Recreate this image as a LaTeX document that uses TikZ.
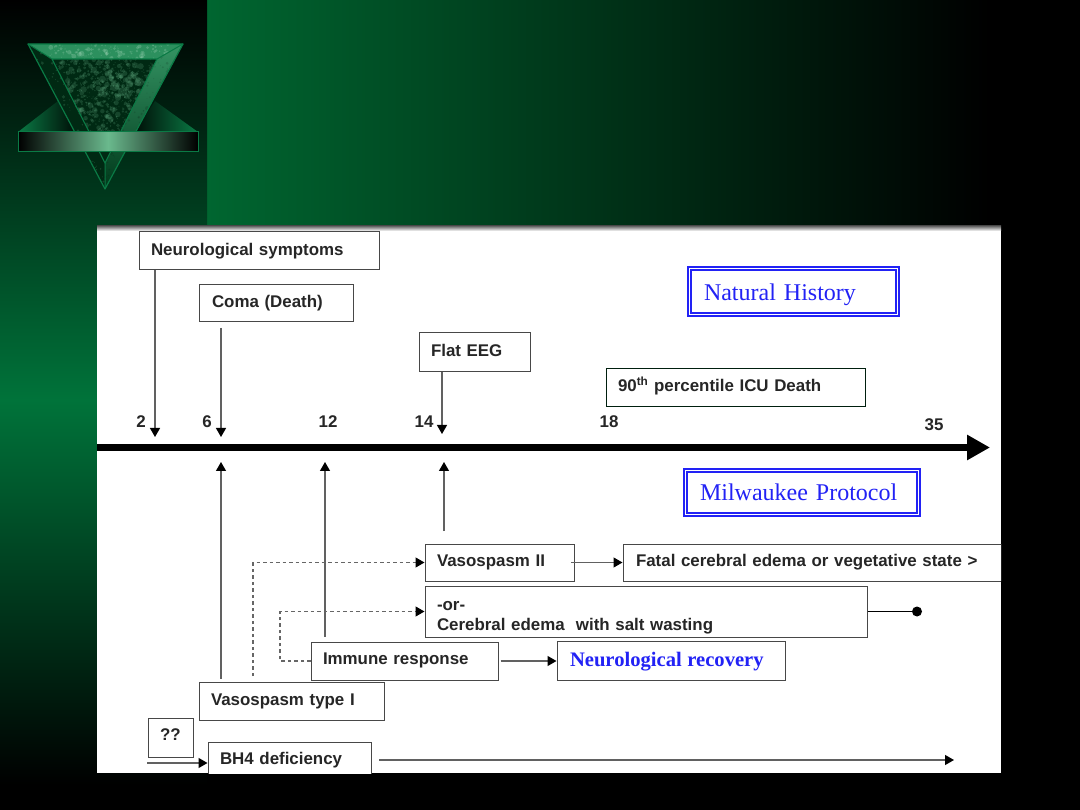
\documentclass[tikz,border=0pt]{standalone}
\usepackage{fontspec}
\setmainfont{Liberation Sans}
\newfontfamily\serifface{Liberation Serif}
\usetikzlibrary{arrows.meta}
\definecolor{gA}{HTML}{006630}
\definecolor{gP}{HTML}{00733A}
\definecolor{gB}{HTML}{0A7A45}
\definecolor{gL}{HTML}{6AB98D}
\definecolor{bord}{HTML}{484848}
\definecolor{proto}{HTML}{2222F5}
\tikzset{
  x=1pt,y=-1pt,
  boxn/.style={draw=bord,line width=1pt,fill=white,inner sep=0pt,font=\bfseries\fontsize{16.9}{20}\selectfont,text=black!85},
  dbl/.style={draw=proto,double=white,line width=1.4pt,double distance=1.7pt,inner sep=0pt,font=\serifface\fontsize{24}{28}\selectfont,text=proto},
  num/.style={inner sep=0pt,font=\bfseries\fontsize{16.9}{20}\selectfont,text=black!85},
  conn/.style={draw=black!62,line width=1.2pt,-{Triangle[length=9pt,width=10pt,color=black]}},
  dash1/.style={draw=black!60,line width=1.2pt,dash pattern=on 3.5pt off 3pt,-{Triangle[length=9pt,width=10pt,color=black]}},
}
% \bx{name}{x1}{y1}{x2}{y2}{left pad}{text}
\newcommand{\bx}[8][boxn]{%
  \pgfmathsetmacro{\bw}{#4-#2}\pgfmathsetmacro{\bh}{#5-#3}
  \pgfmathsetmacro{\tw}{\bw-#6-2}
  \node[#1,minimum width=\bw pt,minimum height=\bh pt,text width=\tw pt,align=left,text height=11pt,text depth=3pt,
        xshift=0pt] (#7) at ({(#2+#4)/2},{(#3+#5)/2}) {\hspace*{\dimexpr #6pt-\dimexpr(\bw pt-\tw pt)/2\relax}\raisebox{0pt}{#8}};}
% \blotches{n}{x}{y}{w}{h}{colour}{opacity}{max radius}
\newcommand{\blotches}[8]{%
  \foreach \i in {1,...,#1}{
    \pgfmathsetmacro{\px}{#2+#4*rnd}
    \pgfmathsetmacro{\py}{#3+#5*rnd}
    \pgfmathsetmacro{\pr}{0.4+#8*rnd*rnd}
    \fill[#6,opacity=#7] (\px,\py) circle (\pr);
  }}
\begin{document}
\begin{tikzpicture}
\useasboundingbox (0,0) rectangle (1080,810);
% background
\fill[black] (0,0) rectangle (1080,810);
\shade[left color=gA,right color=black] (207,0) rectangle (990,230);
\shade[top color=black,bottom color=gP] (0,0) rectangle (207,400);
\shade[top color=gP,bottom color=black] (0,400) rectangle (207,785);
% logo wings
\shade[left color=gB,right color=black!85!gA] (18,132) -- (58,101) -- (75,132) -- cycle;
\shade[right color=gB,left color=black!85!gA] (198,132) -- (155,101) -- (135,132) -- cycle;
\pgfmathsetseed{7}
% logo triangle
\begin{scope}
\clip (52,59) -- (157,59) -- (105,163) -- cycle;
\fill[black!60!gA] (40,50) rectangle (170,170);
\blotches{900}{52}{59}{105}{80}{gL}{0.2}{3}
\blotches{70}{100}{70}{40}{30}{gL}{0.2}{5}
\end{scope}
\begin{scope}
\clip (28,44) -- (183,44) -- (157,59) -- (52,59) -- cycle;
\fill[gB!65!gL] (20,40) rectangle (190,62);
\blotches{120}{50}{44}{120}{15}{gL!70!white}{0.3}{3}
\end{scope}
\begin{scope}
\clip (183,44) -- (157,59) -- (105,163) -- (105,189) -- cycle;
\shade[top color=gB!55!gL,bottom color=black!45!gA] (100,40) rectangle (190,190);
\blotches{280}{105}{44}{78}{145}{black}{0.12}{2}
\end{scope}
\begin{scope}
\clip (28,44) -- (52,59) -- (105,163) -- (105,189) -- cycle;
\fill[black!60!gA] (20,40) rectangle (110,190);
\blotches{300}{28}{44}{78}{145}{gL}{0.2}{1.6}
\end{scope}
\draw[gB,line width=1.2pt,line join=round] (28,44) -- (183,44) -- (105,189) -- cycle;
\draw[gB,line width=1.1pt,line join=round] (52,59) -- (157,59) -- (105,163) -- cycle;
\draw[gB,line width=1pt] (28,44) -- (52,59) (183,44) -- (157,59) (105,163) -- (105,189);
% logo bar
\shade[left color=black,right color=gL,draw=none] (18,132) rectangle (108,152);
\shade[left color=gL,right color=black,draw=none] (108,132) rectangle (198,152);
\draw[gB,line width=1pt] (18,132) rectangle (198,152);
% panel
\fill[white] (97,226) rectangle (1001,773);
\shade[top color=black!60,bottom color=white] (97,226) rectangle (1001,231);
\begin{scope}
\clip (97,226) rectangle (1001,773);
\bx{139}{232}{379}{270}{12}{ns}{\raisebox{-0.5pt}{Neurological symptoms}}
\bx{199}{285}{353}{322}{13}{coma}{Coma (Death)}
\bx{419}{333}{530}{372}{12}{flat}{Flat EEG}
\bx[boxn,draw=black!70!gA]{606}{369}{865}{407}{12}{icu}{90\textsuperscript{th} percentile ICU Death}
\bx[dbl]{689.5}{268.5}{897.5}{314.5}{14.5}{nh}{\raisebox{-5pt}{Natural History}}
\bx[dbl]{685.5}{470.5}{918.5}{514.5}{14.5}{mp}{\raisebox{-4pt}{Milwaukee Protocol}}
\bx{425}{544}{574}{581}{12}{v2}{Vasospasm II}
\bx{623}{544}{1010}{581}{13}{fatal}{Fatal cerebral edema or vegetative state >}
\node[boxn,minimum width=442pt,minimum height=51pt,text width=418pt,align=left] (ce) at (646,611.5) {\rule{0pt}{22pt}-or-\\Cerebral edema\ \ with salt wasting};
\bx{311}{642}{498}{680}{12}{ir}{\raisebox{1pt}{Immune response}}
\bx{557}{641}{785}{680}{13}{nr}{\serifface\color{proto}\fontsize{20.6}{24}\selectfont\raisebox{-2pt}{Neurological recovery}}
\bx{199}{682}{384}{720}{12}{vt}{Vasospasm type I}
\bx{148}{718}{193}{757}{12}{qq}{\raisebox{1pt}{??}}
\bx{208}{742}{371}{779}{12}{bh}{BH4 deficiency}
\end{scope}
% timeline
\coordinate (tl0) at (97,447.5);
\coordinate (tl1) at (990,447.5);
\draw[black,line width=7pt,-{Triangle[length=23pt,width=24pt]}] (tl0) -- (tl1);
\node[num] (n2) at (141,422) {2};
\node[num] (n6) at (207,422) {6};
\node[num] (n12) at (328,422) {12};
\node[num] (n14) at (424,422) {14};
\node[num] (n18) at (609,422) {18};
\node[num] (n35) at (934,425) {35};
% connectors
\coordinate (a2) at (155,437);
\coordinate (a6) at (221,437);
\coordinate (a14) at (442,434);
\coordinate (s6) at (221,328);
\draw[conn] (ns.south -| a2) -- (a2);
\draw[conn] (s6) -- (a6);
\draw[conn] (flat.south -| a14) -- (a14);
\coordinate (u6) at (221,462);
\coordinate (u12) at (325,462);
\coordinate (u14) at (444,462);
\coordinate (f14) at (444,531);
\draw[conn] (vt.north -| u6) ++(0,-3) -- (u6);
\draw[conn] (ir.north -| u12) ++(0,-5) -- (u12);
\draw[conn] (f14) -- (u14);
\coordinate (d1) at (253,676);
\coordinate (d2) at (280,611.5);
\draw[dash1] (d1) |- (v2.west);
\draw[dash1] (ir.west) -| (d2) -- (ce.west);
\draw[conn] (571,562.5) -- (fatal.west);
\coordinate (dot) at (917,611.5);
\draw[draw=black,line width=1.2pt] (ce.east) -- (dot);
\fill[black] (dot) circle (5pt);
\draw[conn] (ir.east) ++(2,0) -- (ir.east -| nr.west);
\coordinate (qs) at (147,763);
\draw[conn] (qs) -- (qs -| bh.west);
\coordinate (be0) at (379,760);
\coordinate (be) at (954,760);
\draw[conn] (be0) -- (be);
\end{tikzpicture}
\end{document}
